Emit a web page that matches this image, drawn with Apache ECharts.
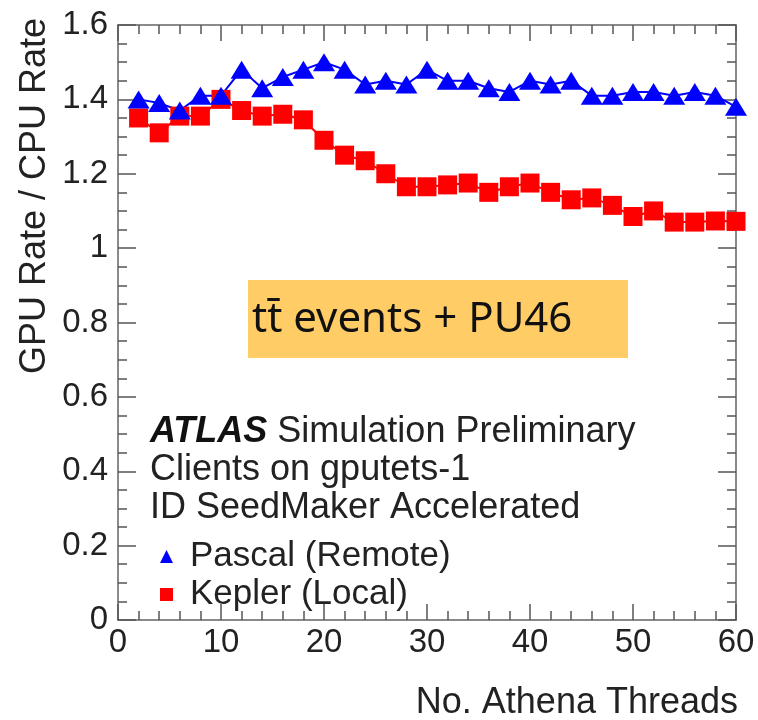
<!DOCTYPE html>
<html>
<head>
<meta charset="utf-8">
<script src="https://cdn.jsdelivr.net/npm/echarts@6/dist/echarts.min.js"></script>
<style>
  html, body { margin: 0; padding: 0; background: #fff; }
  #wrap { position: relative; width: 758px; height: 720px; }
  #main, #notes { position: absolute; left: 0; top: 0; width: 758px; height: 720px; }
</style>
</head>
<body>
<div id="wrap">
  <div id="main"></div>
  <div id="notes"></div>
</div>
<script>
// thread counts on the x axis
var threads = [2, 4, 6, 8, 10, 12, 14, 16, 18, 20, 22, 24, 26, 28, 30,
               32, 34, 36, 38, 40, 42, 44, 46, 48, 50, 52, 54, 56, 58, 60];
// GPU/CPU rate ratio, Pascal (remote)
var pascal = [1.40, 1.39, 1.37, 1.41, 1.41, 1.48, 1.43, 1.46, 1.48, 1.50, 1.48, 1.44, 1.45, 1.44, 1.48,
              1.45, 1.45, 1.43, 1.42, 1.45, 1.44, 1.45, 1.41, 1.41, 1.42, 1.42, 1.41, 1.42, 1.41, 1.38];
// GPU/CPU rate ratio, Kepler (local)
var kepler = [1.35, 1.31, 1.355, 1.355, 1.40, 1.37, 1.355, 1.36, 1.345, 1.29, 1.25, 1.235, 1.20, 1.165, 1.165,
              1.17, 1.175, 1.15, 1.165, 1.175, 1.15, 1.13, 1.135, 1.115, 1.085, 1.10, 1.07, 1.07, 1.073, 1.072];

var font = 'Liberation Sans, Arial, sans-serif';
var frameColor = '#8a8a8a';
var tickColor = '#555';

function pairs(ys) {
    return threads.map(function (t, i) { return [t, ys[i]]; });
}

// 基于准备好的dom，初始化echarts实例
var myChart = echarts.init(document.getElementById('main'));
// texts go on a second, transparent instance on top
var notes = echarts.init(document.getElementById('notes'));

var xBase = {
    type: 'value', min: 0, max: 60, interval: 10,
    axisLine: { show: true, onZero: false, lineStyle: { color: frameColor, width: 2 } },
    axisTick: { show: true, inside: true, length: 16, lineStyle: { color: tickColor, width: 1.5 } },
    minorTick: { show: true, splitNumber: 5, length: 9, lineStyle: { color: tickColor, width: 1.5 } },
    splitLine: { show: false }
};
var yBase = {
    type: 'value', min: 0, max: 1.6, interval: 0.2,
    axisLine: { show: true, onZero: false, lineStyle: { color: frameColor, width: 2 } },
    axisTick: { show: true, inside: true, length: 18, lineStyle: { color: tickColor, width: 1.5 } },
    minorTick: { show: true, splitNumber: 4, length: 9, lineStyle: { color: tickColor, width: 1.5 } },
    splitLine: { show: false }
};

var option = {
    animation: false,
    backgroundColor: '#fff',
    grid: { left: 118, right: 22, top: 25, bottom: 100 },
    xAxis: [
        Object.assign({}, xBase, {
            position: 'bottom',
            axisLabel: { color: '#222', fontSize: 33, fontFamily: font, margin: 6 }
        }),
        Object.assign({}, xBase, { position: 'top', axisLabel: { show: false } })
    ],
    yAxis: [
        Object.assign({}, yBase, {
            position: 'left',
            axisLabel: { color: '#222', fontSize: 33, fontFamily: font, margin: 10 }
        }),
        Object.assign({}, yBase, { position: 'right', axisLabel: { show: false } })
    ],
    legend: {
        orient: 'vertical',
        left: 155, top: 534,
        itemWidth: 13, itemHeight: 13, itemGap: 3,
        textStyle: { color: '#222', fontSize: 35, fontFamily: font, padding: [0, 0, 0, 12] },
        data: [
            { name: 'Pascal (Remote)', icon: 'triangle' },
            { name: 'Kepler (Local)', icon: 'rect' }
        ]
    },
    series: [
        {
            name: 'Kepler (Local)',
            type: 'line',
            data: pairs(kepler),
            symbol: 'rect', symbolSize: 19,
            itemStyle: { color: '#ff0000' },
            lineStyle: { color: '#ff0000', width: 2 }
        },
        {
            name: 'Pascal (Remote)',
            type: 'line',
            data: pairs(pascal),
            symbol: 'triangle', symbolSize: [22, 18],
            itemStyle: { color: '#0000ff' },
            lineStyle: { color: '#0000ff', width: 2 }
        }
    ],
    graphic: [
        {
            type: 'rect', z: 1,
            shape: { x: 248, y: 280, width: 380, height: 78 },
            style: { fill: '#ffcc66' }
        }
    ]
};

var noteOption = {
    animation: false,
    graphic: [
        {
            type: 'text', x: 252, y: 320,
            style: {
                text: 't\u0074\u0304 events + PU46',
                fontSize: 42, fontFamily: '"Noto Sans", sans-serif',
                fill: '#111', textAlign: 'left', textVerticalAlign: 'middle'
            }
        },
        {
            type: 'text', x: 150, y: 432,
            style: {
                text: '{b|ATLAS} Simulation Preliminary',
                fill: '#222', fontSize: 36, fontFamily: font,
                textVerticalAlign: 'middle',
                rich: { b: { fontWeight: 'bold', fontStyle: 'italic', fontSize: 36, fontFamily: font, fill: '#111' } }
            }
        },
        {
            type: 'text', x: 150, y: 470,
            style: { text: 'Clients on gputets-1', fill: '#222', fontSize: 36, fontFamily: font, textVerticalAlign: 'middle' }
        },
        {
            type: 'text', x: 150, y: 508,
            style: { text: 'ID SeedMaker Accelerated', fill: '#222', fontSize: 36, fontFamily: font, textVerticalAlign: 'middle' }
        },
        /* axis titles */
        {
            type: 'text', x: 738, y: 703,
            style: { text: 'No. Athena Threads', fill: '#222', fontSize: 36, fontFamily: font, textAlign: 'right', textVerticalAlign: 'middle' }
        },
        {
            type: 'text', x: 35, y: 196, rotation: Math.PI / 2,
            style: { text: 'GPU Rate / CPU Rate', fill: '#222', fontSize: 36, fontFamily: font, textAlign: 'center', textVerticalAlign: 'middle' }
        }
    ]
};

// 使用刚指定的配置项和数据显示图表。
myChart.setOption(option);
notes.setOption(noteOption);
</script>
</body>
</html>
